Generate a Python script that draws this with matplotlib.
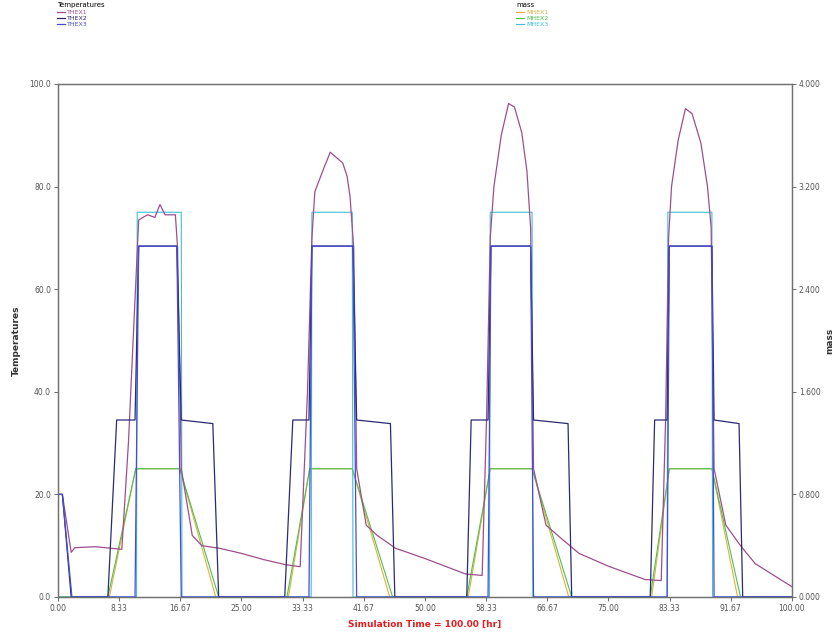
import matplotlib
matplotlib.use("Agg")
import matplotlib.pyplot as plt
import numpy as np

# time [hr] / values
thex1_t = [0, 0.6, 1.8, 2.3, 5.0, 8.7, 9.6, 10.4, 11.0, 12.2, 13.2, 13.9, 14.6, 16.0, 16.3, 16.8,
           18.3, 19.6, 22.0, 25.0, 28.0, 31.0, 33.0,
           34.0, 34.6, 35.0, 36.2, 37.1, 38.8, 39.4, 39.8, 40.3, 40.7, 42.0, 43.5, 46.0, 50.0, 55.5, 57.8,
           58.4, 58.9, 59.4, 60.4, 61.4, 62.2, 63.2, 63.9, 64.4, 64.8, 66.5, 68.5, 71.0, 75.0, 80.0, 82.2,
           82.8, 83.2, 83.6, 84.5, 85.5, 86.4, 87.6, 88.5, 89.0, 89.4, 91.0, 93.0, 95.0, 100.0]
thex1_v = [20, 20, 8.7, 9.6, 9.8, 9.3, 30, 55, 73.5, 74.5, 74.0, 76.5, 74.5, 74.5, 68, 25,
           12, 10, 9.5, 8.5, 7.3, 6.3, 5.9,
           40, 70, 79, 83.5, 86.7, 84.6, 82, 78, 68, 25, 14, 12, 9.5, 7.5, 4.5, 4.2,
           35, 70, 80, 90, 96.2, 95.5, 90.5, 83, 72, 25, 14, 11.5, 8.5, 6.0, 3.4, 3.2,
           35, 70, 80, 89, 95.2, 94.2, 88.5, 80, 72, 25, 14, 10, 6.5, 2.0]

thex2_t = [0, 0.6, 1.8, 6.8, 8.0, 10.5, 11.0, 16.2, 16.8, 21.1, 21.9,
           30.9, 32.0, 34.2, 34.6, 40.2, 40.7, 45.3, 45.9,
           55.7, 56.3, 58.6, 59.0, 64.4, 64.8, 69.5, 70.0,
           80.7, 81.3, 83.0, 83.3, 89.1, 89.4, 92.8, 93.3, 100.0]
thex2_v = [20, 20, 0, 0, 34.5, 34.5, 68.4, 68.4, 34.5, 33.8, 0,
           0, 34.5, 34.5, 68.4, 68.4, 34.5, 33.8, 0,
           0, 34.5, 34.5, 68.4, 68.4, 34.5, 33.8, 0,
           0, 34.5, 34.5, 68.4, 68.4, 34.5, 33.8, 0, 0]

thex3_t = [0, 0.6, 1.9, 10.5, 11.0, 16.2, 16.8, 34.2, 34.6, 40.2, 40.7,
           58.6, 59.0, 64.4, 64.8, 83.0, 83.3, 89.1, 89.4, 100.0]
thex3_v = [20, 20, 0, 0, 68.4, 68.4, 0, 0, 68.4, 68.4, 0,
           0, 68.4, 68.4, 0, 0, 68.4, 68.4, 0, 0]

mhex1_t = [0, 7.0, 10.6, 16.6, 21.5, 31.4, 34.3, 40.1, 45.2,
           55.9, 58.9, 64.6, 69.6, 80.9, 83.3, 89.1, 92.6, 100.0]
mhex1_v = [0, 0, 1.0, 1.0, 0, 0, 1.0, 1.0, 0,
           0, 1.0, 1.0, 0, 0, 1.0, 1.0, 0, 0]

mhex2_t = [0, 6.8, 10.6, 16.6, 21.9, 31.2, 34.3, 40.1, 45.6,
           55.7, 58.9, 64.6, 70.0, 80.7, 83.3, 89.1, 93.0, 100.0]
mhex2_v = [0, 0, 1.0, 1.0, 0, 0, 1.0, 1.0, 0,
           0, 1.0, 1.0, 0, 0, 1.0, 1.0, 0, 0]

mhex3_t = [0, 10.7, 10.8, 16.8, 16.9, 34.5, 34.6, 40.1, 40.2,
           58.8, 58.9, 64.6, 64.7, 83.0, 83.1, 89.1, 89.2, 100.0]
mhex3_v = [0, 0, 3.0, 3.0, 0, 0, 3.0, 3.0, 0,
           0, 3.0, 3.0, 0, 0, 3.0, 3.0, 0, 0]

x_ticks = [0, 8.33, 16.67, 25.0, 33.33, 41.67, 50.0, 58.33, 66.67, 75.0, 83.33, 91.67, 100.0]
temp_ticks = [0, 20, 40, 60, 80, 100]
mass_ticks = [0, 0.8, 1.6, 2.4, 3.2, 4.0]

grey = "#707070"
fig = plt.figure(figsize=(8.34, 6.32), dpi=100)
ax = fig.add_axes([0.0695, 0.0554, 0.880, 0.8117])
ax2 = ax.twinx()

l1, = ax.plot(thex1_t, thex1_v, color="#9c4f8c", lw=0.9, label="THEX1")
l2, = ax.plot(thex2_t, thex2_v, color="#2b2b70", lw=0.9, label="THEX2")
l3, = ax.plot(thex3_t, thex3_v, color="#4a4ad8", lw=0.9, label="THEX3")
m1, = ax2.plot(mhex1_t, mhex1_v, color="#e0b040", lw=0.8, label="MHEX1")
m2, = ax2.plot(mhex2_t, mhex2_v, color="#50c050", lw=0.8, label="MHEX2")
m3, = ax2.plot(mhex3_t, mhex3_v, color="#40c0d8", lw=0.8, label="MHEX3")
# temperatures drawn on top of the mass lines
ax.set_zorder(ax2.get_zorder() + 1)
ax.patch.set_visible(False)

ax.set_xlim(0, 100)
ax.set_ylim(0, 100)
ax2.set_ylim(0, 4)
ax.set_xticks(x_ticks)
ax.set_xticklabels(["%.2f" % x for x in x_ticks])
ax.set_yticks(temp_ticks)
ax.set_yticklabels(["%.1f" % v for v in temp_ticks])
ax2.set_yticks(mass_ticks)
ax2.set_yticklabels(["%.3f" % v for v in mass_ticks])

for a in (ax, ax2):
    a.tick_params(labelsize=5.5, colors="#555555", length=3, width=0.6, pad=2)
    for s in a.spines.values():
        s.set_color(grey)
        s.set_linewidth(0.9)

ax.set_ylabel("Temperatures", fontsize=6.5, fontweight="bold", color="#333333", labelpad=6)
ax2.set_ylabel("mass", fontsize=6.5, fontweight="bold", color="#333333", rotation=90, labelpad=3)
ax.set_xlabel("Simulation Time = 100.00 [hr]", fontsize=6.5, fontweight="bold", color="#e02020", labelpad=5)

leg1 = fig.legend(handles=[l1, l2, l3], title="Temperatures", loc="upper left",
                  bbox_to_anchor=(0.062, 1.005), frameon=False, fontsize=4.5, title_fontsize=5,
                  handlelength=1.2, labelspacing=0.15, handletextpad=0.4, alignment="left",
                  labelcolor="linecolor")
leg2 = fig.legend(handles=[m1, m2, m3], title="mass", loc="upper left",
                  bbox_to_anchor=(0.612, 1.005), frameon=False, fontsize=4.5, title_fontsize=5,
                  handlelength=1.2, labelspacing=0.15, handletextpad=0.4, alignment="left",
                  labelcolor="linecolor")

fig.savefig("out.png", dpi=100)
